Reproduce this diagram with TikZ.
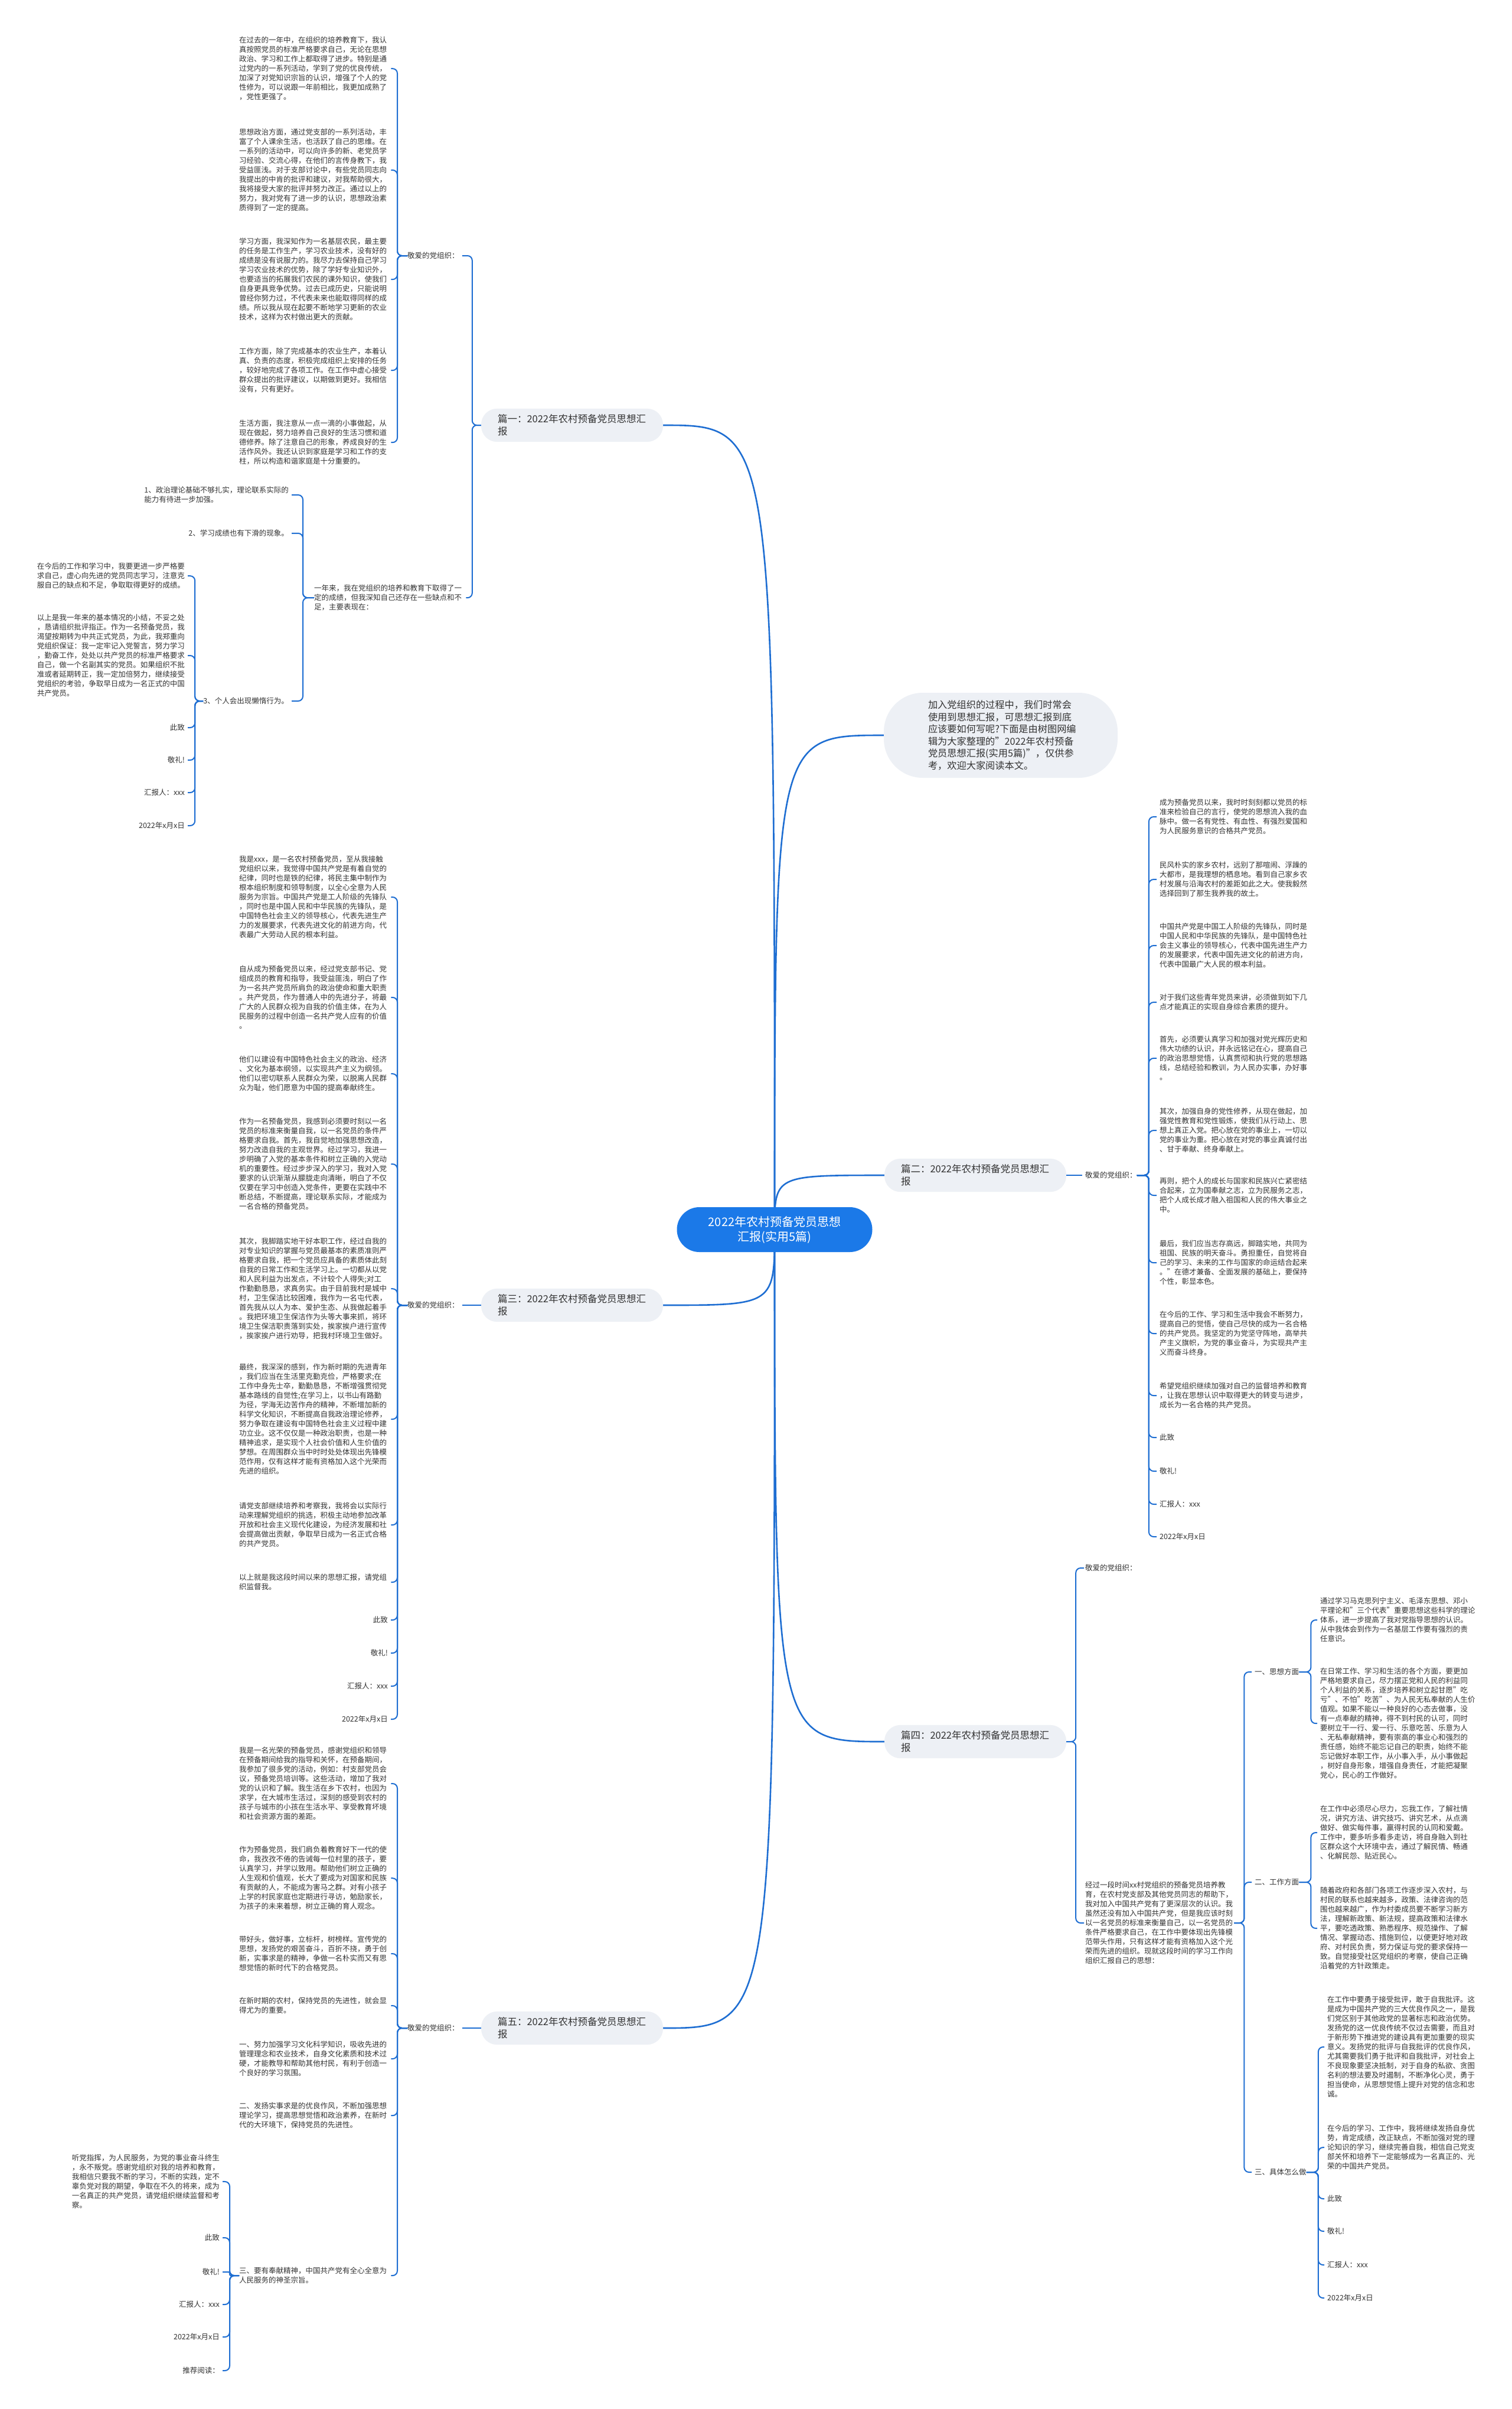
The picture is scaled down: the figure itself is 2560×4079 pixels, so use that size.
\documentclass[tikz,border=0pt]{standalone}
\usepackage{fontspec}
\setmainfont{Noto Sans CJK SC}
\usetikzlibrary{backgrounds}
\definecolor{linkblue}{RGB}{30,110,210}
\definecolor{rootblue}{RGB}{27,121,232}
\definecolor{topicgray}{RGB}{237,240,245}
\definecolor{inktext}{RGB}{51,51,51}

\begin{document}
\begin{tikzpicture}[x=1pt, y=-1pt,
  txt/.style={font=\fontsize{12.5}{16}\selectfont, text=inktext, inner sep=0pt},
  lcol/.style={txt, anchor=north west, text width=252pt, align=left},
  item/.style={txt, anchor=north east, align=left},
  lend/.style={txt, anchor=east},
  rend/.style={txt, anchor=west},
  topic/.style={fill=topicgray, rounded corners=27pt, font=\fontsize{16.5}{21}\selectfont, text=inktext, text width=252pt, align=left, inner xsep=28pt, inner ysep=10pt},
  intro/.style={fill=topicgray, rounded corners=66pt, font=\fontsize{16.2}{20.5}\selectfont, text=inktext, text width=246pt, align=left, inner xsep=75pt, minimum height=144pt},
  root/.style={fill=rootblue, rounded corners=38pt, font=\fontsize{20}{25}\selectfont, text=white, align=center, minimum width=331pt, minimum height=76pt},
  link/.style={draw=linkblue, line width=2.6pt},
  brace/.style={draw=linkblue, line width=2pt, rounded corners=8pt}]
\useasboundingbox (0,0) rectangle (2560,4079);
\begin{scope}[on background layer]
  \fill[white] (0,0) rectangle (2560,4079);
\end{scope}

\node[root] (root) at (1312,2082) {2022年农村预备党员思想\\汇报(实用5篇)};
\node[intro] (intro) at (1695,1245) {加入党组织的过程中，我们时常会\\使用到思想汇报，可思想汇报到底\\应该要如何写呢?下面是由树图网编\\辑为大家整理的"2022年农村预备\\党员思想汇报(实用5篇)"，仅供参\\考，欢迎大家阅读本文。};
\node[topic] (p1) at (969,720) {篇一：2022年农村预备党员思想汇\\报};
\node[topic] (p2) at (1652,1990) {篇二：2022年农村预备党员思想汇\\报};
\node[topic] (p3) at (969,2210) {篇三：2022年农村预备党员思想汇\\报};
\node[topic] (p4) at (1652,2949) {篇四：2022年农村预备党员思想汇\\报};
\node[topic] (p5) at (969,3434) {篇五：2022年农村预备党员思想汇\\报};

% 篇一
\node[rend] (p1l) at (690,433) {敬爱的党组织：};
\node[lcol] (p1a) at (405,62) {在过去的一年中，在组织的培养教育下，我认\\真按照党员的标准严格要求自己，无论在思想\\政治、学习和工作上都取得了进步。特别是通\\过党内的一系列活动，学到了党的优良传统，\\加深了对党知识宗旨的认识，增强了个人的党\\性修为，可以说跟一年前相比，我更加成熟了\\，党性更强了。};
\node[lcol] (p1b) at (405,218) {思想政治方面，通过党支部的一系列活动，丰\\富了个人课余生活，也活跃了自己的思维。在\\一系列的活动中，可以向许多的新、老党员学\\习经验、交流心得，在他们的言传身教下，我\\受益匪浅。对于支部讨论中，有些党员同志向\\我提出的中肯的批评和建议，对我帮助很大，\\我将接受大家的批评并努力改正。通过以上的\\努力，我对党有了进一步的认识，思想政治素\\质得到了一定的提高。};
\node[lcol] (p1c) at (405,403) {学习方面，我深知作为一名基层农民，最主要\\的任务是工作生产，学习农业技术，没有好的\\成绩是没有说服力的。我尽力去保持自己学习\\学习农业技术的优势，除了学好专业知识外，\\也要适当的拓展我们农民的课外知识，使我们\\自身更具竞争优势。过去已成历史，只能说明\\曾经你努力过，不代表未来也能取得同样的成\\绩。所以我从现在起要不断地学习更新的农业\\技术，这样为农村做出更大的贡献。};
\node[lcol] (p1d) at (405,589) {工作方面，除了完成基本的农业生产，本着认\\真、负责的态度，积极完成组织上安排的任务\\，较好地完成了各项工作。在工作中虚心接受\\群众提出的批评建议，以期做到更好。我相信\\没有，只有更好。};
\node[lcol] (p1e) at (405,711) {生活方面，我注意从一点一滴的小事做起，从\\现在做起，努力培养自己良好的生活习惯和道\\德修养。除了注意自己的形象，养成良好的生\\活作风外。我还认识到家庭是学习和工作的支\\柱，所以构造和谐家庭是十分重要的。};
\node[lcol] (p1y) at (532,990) {一年来，我在党组织的培养和教育下取得了一\\定的成绩，但我深知自己还存在一些缺点和不\\足，主要表现在：};
\node[item] (q1) at (489,824) {1、政治理论基础不够扎实，理论联系实际的\\能力有待进一步加强。};
\node[lend] (q2) at (489,903) {2、学习成绩也有下滑的现象。};
\node[lend] (q3) at (489,1187) {3、个人会出现懒惰行为。};
\node[item] (r1) at (313,953) {在今后的工作和学习中，我要更进一步严格要\\求自己，虚心向先进的党员同志学习，注意克\\服自己的缺点和不足，争取取得更好的成绩。};
\node[item] (r2) at (313,1040) {以上是我一年来的基本情况的小结，不妥之处\\，恳请组织批评指正。作为一名预备党员，我\\渴望按期转为中共正式党员，为此，我郑重向\\党组织保证：我一定牢记入党誓言，努力学习\\，勤奋工作，处处以共产党员的标准严格要求\\自己，做一个名副其实的党员。如果组织不批\\准或者延期转正，我一定加倍努力，继续接受\\党组织的考验，争取早日成为一名正式的中国\\共产党员。};
\node[lend] (r3) at (313,1232) {此致};
\node[lend] (r4) at (313,1287) {敬礼!};
\node[lend] (r5) at (313,1342) {汇报人：xxx};
\node[lend] (r6) at (313,1398) {2022年x月x日};

% 篇三
\node[rend] (p3l) at (690,2210) {敬爱的党组织：};
\node[lcol] (p3a) at (405,1449) {我是xxx，是一名农村预备党员，至从我接触\\党组织以来，我觉得中国共产党是有着自觉的\\纪律，同时也是铁的纪律，将民主集中制作为\\根本组织制度和领导制度，以全心全意为人民\\服务为宗旨。中国共产党是工人阶级的先锋队\\，同时也是中国人民和中华民族的先锋队，是\\中国特色社会主义的领导核心，代表先进生产\\力的发展要求，代表先进文化的前进方向，代\\表最广大劳动人民的根本利益。};
\node[lcol] (p3b) at (405,1635) {自从成为预备党员以来，经过党支部书记、党\\组成员的教育和指导，我受益匪浅，明白了作\\为一名共产党员所肩负的政治使命和重大职责\\。共产党员，作为普通人中的先进分子，将最\\广大的人民群众视为自我的价值主体，在为人\\民服务的过程中创造一名共产党人应有的价值\\。};
\node[lcol] (p3c) at (405,1788) {他们以建设有中国特色社会主义的政治、经济\\、文化为基本纲领，以实现共产主义为纲领。\\他们以密切联系人民群众为荣，以脱离人民群\\众为耻，他们愿意为中国的提高奉献终生。};
\node[lcol] (p3d) at (405,1893) {作为一名预备党员，我感到必须要时刻以一名\\党员的标准来衡量自我，以一名党员的条件严\\格要求自我。首先，我自觉地加强思想改造，\\努力改造自我的主观世界。经过学习，我进一\\步明确了入党的基本条件和树立正确的入党动\\机的重要性。经过步步深入的学习，我对入党\\要求的认识渐渐从朦胧走向清晰，明白了不仅\\仅要在学习中创造入党条件，更要在实践中不\\断总结，不断提高，理论联系实际，才能成为\\一名合格的预备党员。};
\node[lcol] (p3e) at (405,2096) {其次，我脚踏实地干好本职工作，经过自我的\\对专业知识的掌握与党员最基本的素质准则严\\格要求自我，把一个党员应具备的素质体此刻\\自我的日常工作和生活学习上。一切都从以党\\和人民利益为出发点，不计较个人得失;对工\\作勤勤恳恳，求真务实。由于目前我村是城中\\村，卫生保洁比较困难，我作为一名屯代表，\\首先我从以人为本、爱护生态、从我做起着手\\。我把环境卫生保洁作为头等大事来抓，将环\\境卫生保洁职责落到实处，挨家挨户进行宣传\\，挨家挨户进行劝导，把我村环境卫生做好。};
\node[lcol] (p3f) at (405,2309) {最终，我深深的感到，作为新时期的先进青年\\，我们应当在生活里克勤克俭，严格要求;在\\工作中身先士卒，勤勤恳恳，不断增强贯彻党\\基本路线的自觉性;在学习上，以书山有路勤\\为径，学海无边苦作舟的精神，不断增加新的\\科学文化知识，不断提高自我政治理论修养，\\努力争取在建设有中国特色社会主义过程中建\\功立业。这不仅仅是一种政治职责，也是一种\\精神追求，是实现个人社会价值和人生价值的\\梦想。在周围群众当中时时处处体现出先锋模\\范作用，仅有这样才能有资格加入这个光荣而\\先进的组织。};
\node[lcol] (p3g) at (405,2544) {请党支部继续培养和考察我，我将会以实际行\\动来理解党组织的挑选，积极主动地参加改革\\开放和社会主义现代化建设，为经济发展和社\\会提高做出贡献，争取早日成为一名正式合格\\的共产党员。};
\node[lcol] (p3h) at (405,2665) {以上就是我这段时间以来的思想汇报，请党组\\织监督我。};
\node[lend] (p3i) at (657,2743) {此致};
\node[lend] (p3j) at (657,2799) {敬礼!};
\node[lend] (p3k) at (657,2855) {汇报人：xxx};
\node[lend] (p3m) at (657,2911) {2022年x月x日};

% 篇五
\node[rend] (p5l) at (690,3434) {敬爱的党组织：};
\node[lcol] (p5a) at (405,2958) {我是一名光荣的预备党员，感谢党组织和领导\\在预备期间给我的指导和关怀，在预备期间，\\我参加了很多党的活动，例如：村支部党员会\\议，预备党员培训等。这些活动，增加了我对\\党的认识和了解。我生活在乡下农村，也因为\\求学，在大城市生活过，深刻的感受到农村的\\孩子与城市的小孩在生活水平、享受教育坏境\\和社会资源方面的差距。};
\node[lcol] (p5b) at (405,3126) {作为预备党员，我们肩负着教育好下一代的使\\命，我孜孜不倦的告诫每一位村里的孩子，要\\认真学习，并学以致用。帮助他们树立正确的\\人生观和价值观，长大了要成为对国家和民族\\有贡献的人，不能成为害马之群。对有小孩子\\上学的村民家庭也定期进行寻访，勉励家长，\\为孩子的未来着想，树立正确的育人观念。};
\node[lcol] (p5c) at (405,3278) {带好头，做好事，立标杆，树榜样。宣传党的\\思想，发扬党的艰苦奋斗，百折不挠，勇于创\\新，实事求是的精神，争做一名朴实而又有思\\想觉悟的新时代下的合格党员。};
\node[lcol] (p5d) at (405,3382) {在新时期的农村，保持党员的先进性，就会显\\得尤为的重要。};
\node[lcol] (p5e) at (405,3456) {一、努力加强学习文化科学知识，吸收先进的\\管理理念和农业技术，自身文化素质和技术过\\硬，才能教导和帮助其他村民，有利于创造一\\个良好的学习氛围。};
\node[lcol] (p5f) at (405,3560) {二、发扬实事求是的优良作风，不断加强思想\\理论学习，提高思想觉悟和政治素养，在新时\\代的大环境下，保持党员的先进性。};
\node[lcol] (p5g) at (405,3839) {三、要有奉献精神，中国共产党有全心全意为\\人民服务的神圣宗旨。};
\node[item] (s1) at (372,3648) {听党指挥，为人民服务，为党的事业奋斗终生\\，永不叛党。感谢党组织对我的培养和教育，\\我相信只要我不断的学习，不断的实践，定不\\辜负党对我的期望，争取在不久的将来，成为\\一名真正的共产党员，请党组织继续监督和考\\察。};
\node[lend] (s2) at (372,3789) {此致};
\node[lend] (s3) at (372,3847) {敬礼!};
\node[lend] (s4) at (372,3902) {汇报人：xxx};
\node[lend] (s5) at (372,3957) {2022年x月x日};
\node[lend] (s6) at (372,4014) {推荐阅读：};

% 篇二
\node[rend] (p2l) at (1838,1990) {敬爱的党组织：};
\node[lcol] (p2a) at (1964,1353) {成为预备党员以来，我时时刻刻都以党员的标\\准来检验自己的言行，使党的思想流入我的血\\脉中。做一名有党性、有血性、有强烈爱国和\\为人民服务意识的合格共产党员。};
\node[lcol] (p2b) at (1964,1459) {民风朴实的家乡农村，远别了那喧闹、浮躁的\\大都市，是我理想的栖息地。看到自己家乡农\\村发展与沿海农村的差距如此之大。使我毅然\\选择回到了那生我养我的故土。};
\node[lcol] (p2c) at (1964,1563) {中国共产党是中国工人阶级的先锋队，同时是\\中国人民和中华民族的先锋队，是中国特色社\\会主义事业的领导核心，代表中国先进生产力\\的发展要求，代表中国先进文化的前进方向，\\代表中国最广大人民的根本利益。};
\node[lcol] (p2d) at (1964,1683) {对于我们这些青年党员来讲，必须做到如下几\\点才能真正的实现自身综合素质的提升。};
\node[lcol] (p2e) at (1964,1754) {首先，必须要认真学习和加强对党光辉历史和\\伟大功绩的认识，并永远铭记在心，提高自己\\的政治思想觉悟，认真贯彻和执行党的思想路\\线，总结经验和教训，为人民办实事，办好事\\。};
\node[lcol] (p2f) at (1964,1876) {其次，加强自身的党性修养，从现在做起，加\\强党性教育和党性锻炼，使我们从行动上、思\\想上真正入党。把心放在党的事业上，一切以\\党的事业为重。把心放在对党的事业真诚付出\\、甘于奉献、终身奉献上。};
\node[lcol] (p2g) at (1964,1994) {再则，把个人的成长与国家和民族兴亡紧密结\\合起来，立为国奉献之志，立为民服务之志，\\把个人成长成才融入祖国和人民的伟大事业之\\中。};
\node[lcol] (p2h) at (1964,2100) {最后，我们应当志存高远，脚踏实地，共同为\\祖国、民族的明天奋斗。勇担重任，自觉将自\\己的学习、未来的工作与国家的命运结合起来\\。"在德才兼备、全面发展的基础上，要保持\\个性，彰显本色。};
\node[lcol] (p2i) at (1964,2220) {在今后的工作、学习和生活中我会不断努力，\\提高自己的觉悟，使自己尽快的成为一名合格\\的共产党员。我坚定的为党坚守阵地，高举共\\产主义旗帜，为党的事业奋斗，为实现共产主\\义而奋斗终身。};
\node[lcol] (p2j) at (1964,2341) {希望党组织继续加强对自己的监督培养和教育\\，让我在思想认识中取得更大的转变与进步，\\成长为一名合格的共产党员。};
\node[rend] (p2k) at (1964,2434) {此致};
\node[rend] (p2m) at (1964,2491) {敬礼!};
\node[rend] (p2n) at (1964,2547) {汇报人：xxx};
\node[rend] (p2o) at (1964,2602) {2022年x月x日};

% 篇四
\node[rend] (p4l) at (1838,2655) {敬爱的党组织：};
\node[lcol] (p4y) at (1838,3186) {经过一段时间xx村党组织的预备党员培养教\\育，在农村党支部及其他党员同志的帮助下，\\我对加入中国共产党有了更深层次的认识。我\\虽然还没有加入中国共产党，但是我应该时刻\\以一名党员的标准来衡量自己，以一名党员的\\条件严格要求自己，在工作中要体现出先锋模\\范带头作用，只有这样才能有资格加入这个光\\荣而先进的组织。现就这段时间的学习工作向\\组织汇报自己的思想：};
\node[rend] (t1) at (2125,2831) {一、思想方面};
\node[rend] (t2) at (2125,3187) {二、工作方面};
\node[rend] (t3) at (2125,3678) {三、具体怎么做};
\node[lcol] (u1) at (2236,2705) {通过学习马克思列宁主义、毛泽东思想、邓小\\平理论和"三个代表"重要思想这些科学的理论\\体系，进一步提高了我对党指导思想的认识。\\从中我体会到作为一名基层工作要有强烈的责\\任意识。};
\node[lcol] (u2) at (2236,2824) {在日常工作、学习和生活的各个方面，要更加\\严格地要求自己，尽力摆正党和人民的利益同\\个人利益的关系，逐步培养和树立起甘愿"吃\\亏"、不怕"吃苦"、为人民无私奉献的人生价\\值观。如果不能以一种良好的心态去做事，没\\有一点奉献的精神，得不到村民的认可，同时\\要树立干一行、爱一行、乐意吃苦、乐意为人\\、无私奉献精神，要有崇高的事业心和强烈的\\责任感，始终不能忘记自己的职责，始终不能\\忘记做好本职工作，从小事入手，从小事做起\\，树好自身形象，增强自身责任，才能把凝聚\\党心，民心的工作做好。};
\node[lcol] (u3) at (2236,3057) {在工作中必须尽心尽力，忘我工作，了解社情\\况，讲究方法、讲究技巧、讲究艺术，从点滴\\做好、做实每件事，赢得村民的认同和爱戴。\\工作中，要多听多看多走访，将自身融入到社\\区群众这个大环境中去，通过了解民情、畅通\\、化解民怨、贴近民心。};
\node[lcol] (u4) at (2236,3195) {随着政府和各部门各项工作逐步深入农村，与\\村民的联系也越来越多，政策、法律咨询的范\\围也越来越广，作为村委成员要不断学习新方\\法，理解新政策、新法规，提高政策和法律水\\平，要吃透政策、熟悉程序、规范操作、了解\\情况、掌握动态、措施到位，以便更好地对政\\府、对村民负责，努力保证与党的要求保持一\\致。自觉接受社区党组织的考察，使自己正确\\沿着党的方针政策走。};
\node[lcol] (u5) at (2248,3380) {在工作中要勇于接受批评，敢于自我批评。这\\是成为中国共产党的三大优良作风之一，是我\\们党区别于其他政党的显著标志和政治优势。\\发扬党的这一优良传统不仅过去需要，而且对\\于新形势下推进党的建设具有更加重要的现实\\意义。发扬党的批评与自我批评的优良作风，\\尤其需要我们勇于批评和自我批评，对社会上\\不良现象要坚决抵制，对于自身的私欲、贪图\\名利的想法要及时遏制，不断净化心灵，勇于\\担当使命，从思想觉悟上提升对党的信念和忠\\诚。};
\node[lcol] (u6) at (2248,3598) {在今后的学习、工作中，我将继续发扬自身优\\势，肯定成绩，改正缺点，不断加强对党的理\\论知识的学习，继续完善自我，相信自己党支\\部关怀和培养下一定能够成为一名真正的、光\\荣的中国共产党员。};
\node[rend] (u7) at (2248,3723) {此致};
\node[rend] (u8) at (2248,3778) {敬礼!};
\node[rend] (u9) at (2248,3835) {汇报人：xxx};
\node[rend] (u10) at (2248,3891) {2022年x月x日};

\begin{scope}[on background layer]
  \draw[link] (root.center) .. controls (1312,720) .. (p1.east);
  \draw[link] (root.center) .. controls (1312,1245) .. (intro.west);
  \draw[link] (root.center) .. controls (1312,1990) .. (p2.west);
  \draw[link] (root.center) .. controls (1312,2210) .. (p3.east);
  \draw[link] (root.center) .. controls (1312,2949) .. (p4.west);
  \draw[link] (root.center) .. controls (1312,3434) .. (p5.east);
\end{scope}

\foreach \c in {p1l,p1y} \draw[brace] (p1.west) -- ++(-15,0) |- ([xshift=5pt]\c.east);
\foreach \c in {p1a,p1b,p1c,p1d,p1e} \draw[brace] (p1l.west) -- ++(-17,0) |- ([xshift=5pt]\c.east);
\foreach \c in {q1,q2,q3} \draw[brace] (p1y.west) -- ++(-19,0) |- ([xshift=5pt]\c.east);
\foreach \c in {r1,r2,r3,r4,r5,r6} \draw[brace] (q3.west) -- ++(-14,0) |- ([xshift=5pt]\c.east);

\draw[brace] (p3.west) -- ([xshift=5pt]p3l.east);
\foreach \c in {p3a,p3b,p3c,p3d,p3e,p3f,p3g,p3h,p3i,p3j,p3k,p3m} \draw[brace] (p3l.west) -- ++(-17,0) |- ([xshift=5pt]\c.east);

\draw[brace] (p5.west) -- ([xshift=5pt]p5l.east);
\foreach \c in {p5a,p5b,p5c,p5d,p5e,p5f,p5g} \draw[brace] (p5l.west) -- ++(-17,0) |- ([xshift=5pt]\c.east);
\foreach \c in {s1,s2,s4,s5,s6} \draw[brace] (p5g.west) -- ++(-16,0) |- ([xshift=5pt]\c.east);
\draw[brace, rounded corners=2pt] (p5g.west) -- ++(-16,0) |- ([xshift=5pt]s3.east);

\draw[brace] (p2.east) -- ([xshift=-5pt]p2l.west);
\foreach \c in {p2a,p2b,p2c,p2d,p2e,p2f,p2g,p2h,p2i,p2j,p2k,p2m,p2n,p2o} \draw[brace] (p2l.east) -- ++(20,0) |- ([xshift=-5pt]\c.west);

\foreach \c in {p4l,p4y} \draw[brace] (p4.east) -- ++(16,0) |- ([xshift=-2pt]\c.west);
\foreach \c in {t1,t2,t3} \draw[brace] (p4y.east) -- ++(17,0) |- ([xshift=-5pt]\c.west);
\foreach \c in {u1,u2} \draw[brace] (t1.east) -- ++(20,0) |- ([xshift=-5pt]\c.west);
\foreach \c in {u3,u4} \draw[brace] (t2.east) -- ++(20,0) |- ([xshift=-5pt]\c.west);
\foreach \c in {u5,u6,u7,u8,u9,u10} \draw[brace] (t3.east) -- ++(20,0) |- ([xshift=-5pt]\c.west);
\end{tikzpicture}
\end{document}
